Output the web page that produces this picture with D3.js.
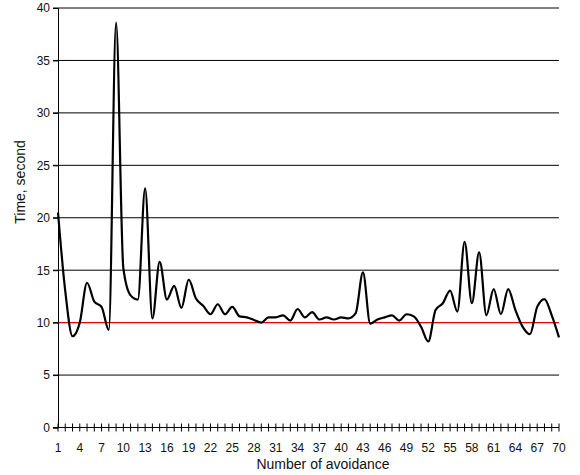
<!DOCTYPE html>
<html><head><meta charset="utf-8">
<script src="https://cdn.jsdelivr.net/npm/d3@7"></script>
<style>body{margin:0;background:#fff}svg{display:block}</style>
</head><body>
<svg id="c" width="580" height="475"></svg>
<script>
const categories = d3.range(1, 71);
const times = [20.5,13.0,8.7,10.0,13.8,12.0,11.5,9.3,38.6,15.2,
  12.6,12.2,22.8,10.4,15.8,12.2,13.5,11.4,14.1,12.3,
  11.6,10.8,11.75,10.8,11.5,10.6,10.5,10.25,10.0,10.5,
  10.5,10.7,10.2,11.3,10.5,11.0,10.3,10.5,10.3,10.5,
  10.4,10.9,14.8,9.9,10.3,10.5,10.7,10.2,10.8,10.6,
  9.6,8.2,11.2,11.85,13.05,11.05,17.7,11.85,16.7,10.7,
  13.2,10.8,13.2,11.2,9.6,8.9,11.5,12.25,10.7,8.6];
const yTicks = [0,5,10,15,20,25,30,35,40];
const xLabels = d3.range(1, 71, 3);
const threshold = 10;

const svg = d3.select("#c");
const L = 58, R = 559, T = 8, B = 427.5;
const x = d3.scaleLinear().domain([1, 70]).range([L, R]);
const y = d3.scaleLinear().domain([0, 40]).range([B, T]);
const font = "'Liberation Sans', Arial, sans-serif";

svg.append("g").selectAll("line").data(yTicks.filter(d => d > 0)).join("line")
  .attr("x1", L - 5).attr("x2", R).attr("y1", d => y(d)).attr("y2", d => y(d))
  .attr("stroke", "#000").attr("stroke-width", 1);

svg.append("line").attr("x1", L).attr("x2", R)
  .attr("y1", y(threshold)).attr("y2", y(threshold))
  .attr("stroke", "#ff0000").attr("stroke-width", 1);

const yAxis = svg.append("g").attr("transform", `translate(${L},0)`)
  .call(d3.axisLeft(y).tickValues(yTicks).tickSize(5).tickPadding(3));
yAxis.select(".domain").attr("stroke", "#000");
yAxis.selectAll("text").attr("font-family", font).attr("font-size", 12).attr("fill", "#111");

const xAxis = svg.append("g").attr("transform", `translate(0,${B})`);
xAxis.append("line").attr("x1", L - 5).attr("x2", R).attr("stroke", "#000");
xAxis.selectAll("line.tk").data(categories).join("line").attr("class", "tk")
  .attr("x1", d => x(d)).attr("x2", d => x(d)).attr("y1", -4).attr("y2", 4)
  .attr("stroke", "#000");
xAxis.selectAll("text").data(xLabels).join("text")
  .attr("x", d => x(d)).attr("y", 24).attr("text-anchor", "middle")
  .attr("font-family", font).attr("font-size", 12).attr("fill", "#111")
  .text(d => d);

const line = d3.line().x((d, i) => x(categories[i])).y(d => y(d))
  .curve(d3.curveMonotoneX);
svg.append("path").datum(times).attr("d", line)
  .attr("fill", "none").attr("stroke", "#000").attr("stroke-width", 2.2);

svg.append("text").attr("x", 323).attr("y", 469).attr("text-anchor", "middle")
  .attr("font-family", font).attr("font-size", 14).attr("fill", "#111")
  .text("Number of avoidance");
svg.append("text").attr("transform", "translate(25,182) rotate(-90)")
  .attr("text-anchor", "middle")
  .attr("font-family", font).attr("font-size", 14).attr("fill", "#111")
  .text("Time, second");
</script>
</body></html>
